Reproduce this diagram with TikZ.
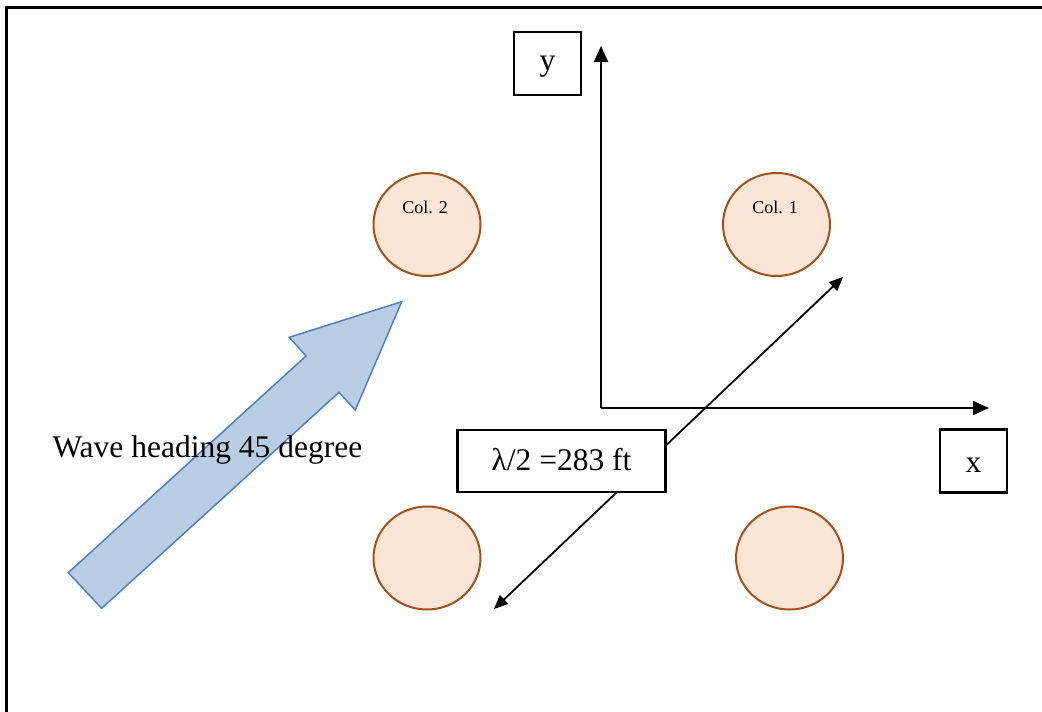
\documentclass[tikz,border=0pt]{standalone}
\usepackage{fontspec}
\setmainfont{Liberation Serif}
\usetikzlibrary{arrows.meta,shapes.geometric}
\definecolor{colfill}{HTML}{FBE5D6}
\definecolor{coldraw}{HTML}{A0521A}
\definecolor{wavefill}{HTML}{B9CDE5}
\definecolor{wavedraw}{HTML}{4F81BD}
\tikzset{
  column/.style={ellipse, draw=coldraw, fill=colfill, line width=2pt, minimum width=107pt, minimum height=103pt, inner sep=0pt},
  bigtext/.style={font=\fontsize{31.5}{36}\selectfont},
  smalltext/.style={font=\fontsize{18}{21}\selectfont},
  labelbox/.style={draw=black, line width=2.2pt, fill=white, bigtext, inner sep=0pt, text depth=0pt},
  axis/.style={line width=2.2pt, -{Triangle[length=16pt,width=14pt]}},
  dim/.style={line width=1.8pt, {Triangle[length=14pt,width=12pt]}-{Triangle[length=14pt,width=12pt]}},
}
\begin{document}
\begin{tikzpicture}[x=1pt,y=-1pt]
\useasboundingbox (0,0) rectangle (1042,712);
\fill[white] (0,0) rectangle (1042,712);
\draw[line width=2.8pt] (6.5,7.5) rectangle (1060,730);

% columns
\node[column] (c2) at (427,224.5) {};
\node[column] (c1) at (776.5,224.5) {};
\node[column] (c3) at (427,558) {};
\node[column] (c4) at (789.5,558) {};
\node[smalltext] (c2t) at (425,207) {Col. 2};
\node[smalltext] (c1t) at (775,207) {Col. 1};

% axes
\coordinate (o) at (601,408);
\coordinate (yend) at (601,46);
\coordinate (xend) at (989,408);
\draw[axis] (o) -- (yend);
\draw[axis] (o) -- (xend);
\node[labelbox, minimum width=67pt, minimum height=63pt, text height=13pt] (ylab) at (547.5,63.5) {y};
\node[labelbox, minimum width=67pt, minimum height=63pt, text height=22pt] (xlab) at (973.5,461) {x};

% dimension arrow
\coordinate (d1) at (494,609);
\coordinate (d2) at (843,277);
\draw[dim] (d1) -- (d2);
\node[labelbox, minimum width=208pt, minimum height=62pt, text height=18pt] (lam) at (561.5,461) {λ/2 =283 ft};

% wave arrow
\draw[draw=wavedraw, fill=wavefill, line width=1.5pt, line join=miter]
  (68.3,572.7) -- (306,356) -- (289.3,337.3) -- (401.7,301.7) -- (355.3,410) -- (339,392.3) -- (101.7,608.3) -- cycle;
\node[bigtext, anchor=base west] (wave) at (49,457) {Wave heading 45 degree};
\end{tikzpicture}
\end{document}
